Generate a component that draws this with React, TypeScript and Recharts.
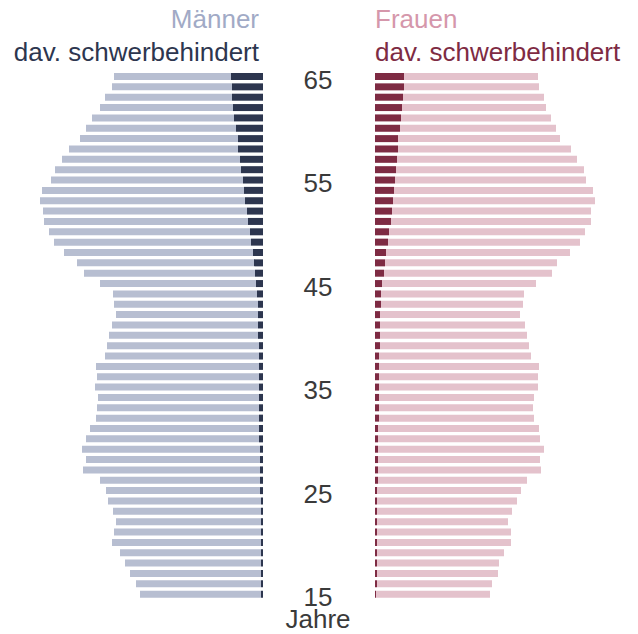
import React from 'react';
import { BarChart, Bar, XAxis, YAxis } from 'recharts';

// ages from top (65) to bottom (15)
const ages = [
  65, 64, 63, 62, 61, 60, 59, 58, 57, 56, 55, 54, 53, 52, 51, 50, 49, 48, 47, 46,
  45, 44, 43, 42, 41, 40, 39, 38, 37, 36, 35, 34, 33, 32, 31, 30, 29, 28, 27, 26,
  25, 24, 23, 22, 21, 20, 19, 18, 17, 16, 15,
];

const menTotal = [
  149, 151, 158, 163, 171, 177, 183, 194, 201, 208, 212, 221, 223, 220, 219, 214, 209, 199, 186, 179,
  163, 150, 149, 147, 151, 154, 156, 158, 167, 166, 168, 165, 166, 167, 173, 177, 181, 177, 180, 163,
  157, 155, 150, 147, 149, 151, 143, 138, 133, 127, 123,
];

const menDisabled = [
  32, 31, 31, 30, 29, 27, 25, 25, 23, 22, 20, 19, 18, 16, 15, 13, 12, 10, 9, 8,
  7, 6, 5, 5, 5, 5, 4, 4, 4, 4, 4, 4, 4, 4, 4, 4, 3, 3, 3, 3,
  3, 2, 2, 2, 2, 2, 2, 2, 2, 2, 2,
];

const womenTotal = [
  163, 164, 169, 171, 176, 181, 185, 196, 202, 209, 211, 218, 220, 216, 216, 210, 205, 195, 182, 177,
  161, 149, 148, 145, 150, 152, 154, 156, 164, 163, 163, 159, 158, 159, 164, 165, 169, 165, 166, 152,
  146, 142, 137, 133, 136, 136, 129, 124, 123, 117, 115,
];

const womenDisabled = [
  29, 29, 28, 27, 26, 25, 23, 23, 22, 21, 20, 19, 18, 17, 16, 14, 13, 11, 10, 9,
  7, 6, 6, 5, 5, 5, 5, 4, 4, 4, 4, 4, 4, 4, 3, 3, 3, 3, 3, 3,
  2, 2, 2, 2, 2, 2, 2, 2, 2, 2, 1,
];

const data = ages.map((age, i) => ({
  age,
  menDis: menDisabled[i],
  menRest: menTotal[i] - menDisabled[i],
  womenDis: womenDisabled[i],
  womenRest: womenTotal[i] - womenDisabled[i],
}));

const FONT = '"Liberation Sans", Arial, Helvetica, sans-serif';
const MAX = 230;
const CHART_H = 634;
const MARGIN_TOP = 71;
const MARGIN_BOTTOM = 35;

// eslint-disable-next-line @typescript-eslint/no-explicit-any
function AgeTick({ y, payload }: any) {
  const age = Number(payload.value);
  if (age % 10 !== 5) return <g />;
  return (
    <text x={55} y={y} textAnchor="middle" fontFamily={FONT} fontSize={26} fill="#3a3a3a">
      <tspan x={55} dy={12.5}>{age}</tspan>
      {age === 15 && (
        <tspan x={55} dy={22}>
          Jahre
        </tspan>
      )}
    </text>
  );
}

export default function App() {
  return (
    <div style={{ position: 'absolute', left: 0, top: 0, width: 638, height: 634, background: '#fff' }}>
      <svg width={638} height={70} style={{ position: 'absolute', left: 0, top: 0 }}>
        <text x={259} y={28} textAnchor="end" fontFamily={FONT} fontSize={26} fill="#a1aac6">
          Männer
        </text>
        <text x={259} y={61} textAnchor="end" fontFamily={FONT} fontSize={26} fill="#2d364f">
          dav. schwerbehindert
        </text>
        <text x={375} y={28} textAnchor="start" fontFamily={FONT} fontSize={26} fill="#d597ab">
          Frauen
        </text>
        <text x={375} y={61} textAnchor="start" fontFamily={FONT} fontSize={26} fill="#7e2b43">
          dav. schwerbehindert
        </text>
      </svg>

      <div style={{ position: 'absolute', left: 0, top: 0 }}>
        <BarChart
          width={263}
          height={CHART_H}
          data={data}
          layout="vertical"
          barSize={7}
          margin={{ top: MARGIN_TOP, right: 0, bottom: MARGIN_BOTTOM, left: 33 }}
        >
          <XAxis type="number" domain={[0, MAX]} reversed hide allowDataOverflow />
          <YAxis type="category" dataKey="age" hide />
          <Bar dataKey="menDis" stackId="m" fill="#2d364f" isAnimationActive={false} />
          <Bar dataKey="menRest" stackId="m" fill="#b7bed1" isAnimationActive={false} />
        </BarChart>
      </div>

      <div style={{ position: 'absolute', left: 263, top: 0 }}>
        <BarChart
          width={375}
          height={CHART_H}
          data={data}
          layout="vertical"
          barSize={7}
          margin={{ top: MARGIN_TOP, right: 33, bottom: MARGIN_BOTTOM, left: 0 }}
        >
          <XAxis type="number" domain={[0, MAX]} hide allowDataOverflow />
          <YAxis
            type="category"
            dataKey="age"
            width={112}
            axisLine={false}
            tickLine={false}
            interval={0}
            tick={<AgeTick />}
          />
          <Bar dataKey="womenDis" stackId="w" fill="#7e2b43" isAnimationActive={false} />
          <Bar dataKey="womenRest" stackId="w" fill="#e4c2cc" isAnimationActive={false} />
        </BarChart>
      </div>
    </div>
  );
}
